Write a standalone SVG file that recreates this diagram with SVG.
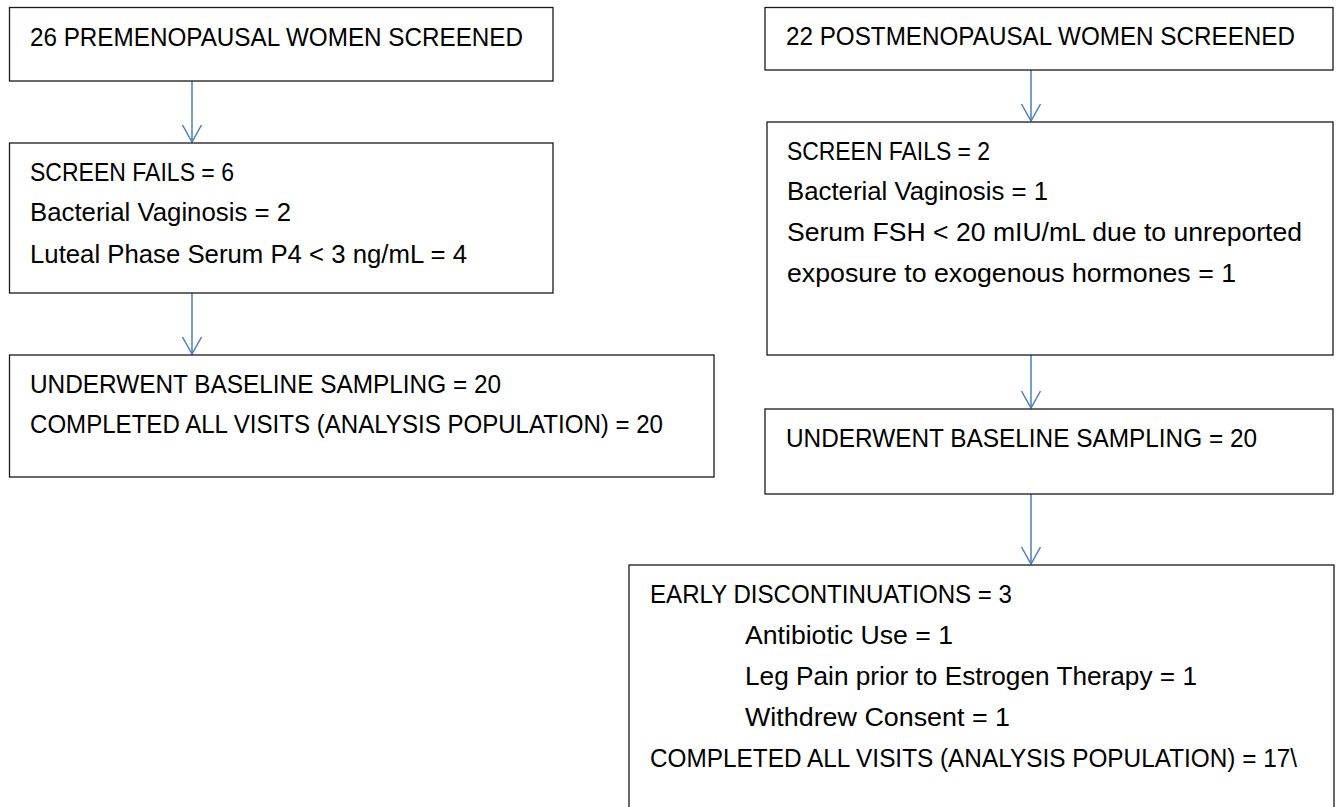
<svg xmlns="http://www.w3.org/2000/svg" width="1343" height="807" viewBox="0 0 1343 807">
<defs>
<style>
.box{fill:#fff;stroke:#1a1a1a;stroke-width:1.3}
.t{font-family:"Liberation Sans",Arial,sans-serif;font-size:26px;fill:#000}
.c{stroke:#4a7ebb;stroke-width:1.5;fill:none}
</style>
<marker id="arr" markerUnits="userSpaceOnUse" markerWidth="24" markerHeight="24" viewBox="-20 -12 24 24" refX="0" refY="0" orient="auto">
<path d="M-17,-9.5 L0,0 L-17,9.5" fill="none" stroke="#4a7ebb" stroke-width="1.5"/>
</marker>
</defs>
<rect width="1343" height="807" fill="#fff"/>
<g id="connectors">
<line class="c" x1="192" y1="81" x2="192" y2="142" marker-end="url(#arr)"/>
<line class="c" x1="192" y1="293" x2="192" y2="354" marker-end="url(#arr)"/>
<line class="c" x1="1031" y1="70" x2="1031" y2="121" marker-end="url(#arr)"/>
<line class="c" x1="1031" y1="355" x2="1031" y2="408" marker-end="url(#arr)"/>
<line class="c" x1="1031" y1="494" x2="1031" y2="564" marker-end="url(#arr)"/>
</g>
<g id="pre-screened">
<rect class="box" x="9.5" y="7.5" width="543.5" height="73.5"/>
<text class="t" x="30" y="46" textLength="493" lengthAdjust="spacingAndGlyphs">26 PREMENOPAUSAL WOMEN SCREENED</text>
</g>
<g id="pre-fails">
<rect class="box" x="9.5" y="143" width="543.5" height="150"/>
<text class="t" x="30" y="181" textLength="204" lengthAdjust="spacingAndGlyphs">SCREEN FAILS = 6</text>
<text class="t" x="30" y="221" textLength="261" lengthAdjust="spacingAndGlyphs">Bacterial Vaginosis = 2</text>
<text class="t" x="30" y="263" textLength="437" lengthAdjust="spacingAndGlyphs">Luteal Phase Serum P4 &lt; 3 ng/mL = 4</text>
</g>
<g id="pre-baseline">
<rect class="box" x="9.5" y="355" width="704.5" height="122"/>
<text class="t" x="30" y="393" textLength="471" lengthAdjust="spacingAndGlyphs">UNDERWENT BASELINE SAMPLING = 20</text>
<text class="t" x="30" y="433" textLength="633" lengthAdjust="spacingAndGlyphs">COMPLETED ALL VISITS (ANALYSIS POPULATION) = 20</text>
</g>
<g id="post-screened">
<rect class="box" x="765" y="7.5" width="568" height="62.5"/>
<text class="t" x="786" y="45" textLength="509" lengthAdjust="spacingAndGlyphs">22 POSTMENOPAUSAL WOMEN SCREENED</text>
</g>
<g id="post-fails">
<rect class="box" x="767" y="122" width="566" height="233"/>
<text class="t" x="787" y="160" textLength="203" lengthAdjust="spacingAndGlyphs">SCREEN FAILS = 2</text>
<text class="t" x="787" y="200" textLength="261" lengthAdjust="spacingAndGlyphs">Bacterial Vaginosis = 1</text>
<text class="t" x="787" y="241" textLength="515" lengthAdjust="spacingAndGlyphs">Serum FSH &lt; 20 mIU/mL due to unreported</text>
<text class="t" x="787" y="282" textLength="449" lengthAdjust="spacingAndGlyphs">exposure to exogenous hormones = 1</text>
</g>
<g id="post-baseline">
<rect class="box" x="765" y="409" width="568" height="85"/>
<text class="t" x="786" y="447" textLength="471" lengthAdjust="spacingAndGlyphs">UNDERWENT BASELINE SAMPLING = 20</text>
</g>
<g id="post-discontinuations">
<rect class="box" x="629" y="565" width="705" height="260"/>
<text class="t" x="650" y="603" textLength="362" lengthAdjust="spacingAndGlyphs">EARLY DISCONTINUATIONS = 3</text>
<text class="t" x="745" y="644" textLength="208" lengthAdjust="spacingAndGlyphs">Antibiotic Use = 1</text>
<text class="t" x="745" y="685" textLength="452" lengthAdjust="spacingAndGlyphs">Leg Pain prior to Estrogen Therapy = 1</text>
<text class="t" x="745" y="726" textLength="265" lengthAdjust="spacingAndGlyphs">Withdrew Consent = 1</text>
<text class="t" x="650" y="767" textLength="647" lengthAdjust="spacingAndGlyphs">COMPLETED ALL VISITS (ANALYSIS POPULATION) = 17\</text>
</g>
</svg>
